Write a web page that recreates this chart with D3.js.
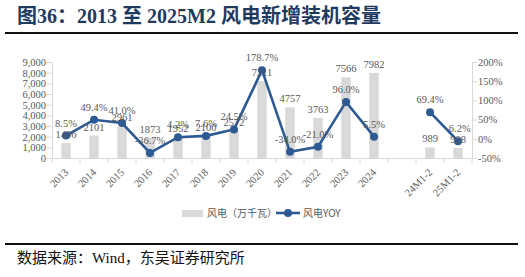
<!DOCTYPE html>
<html lang="zh">
<head>
<meta charset="UTF-8">
<title>风电新增装机容量</title>
<script src="https://d3js.org/d3.v7.min.js"></script>
<style>
  body { margin: 0; background: #fff; }
  text { font-family: "Liberation Serif", "Noto Sans CJK SC", serif; }
</style>
</head>
<body>
<div id="chart"></div>
<script>
// data
var categories = ["2013", "2014", "2015", "2016", "2017", "2018", "2019", "2020", "2021", "2022", "2023", "2024", "", "24M1-2", "25M1-2"];
var capacity = [1406, 2101, 2961, 1873, 1952, 2100, 2572, 7211, 4757, 3763, 7566, 7982, null, 989, 928];
var yoy = [8.5, 49.4, 41.0, -36.7, 4.2, 7.6, 24.5, 178.7, -34.0, -21.0, 96.0, 5.5, null, 69.4, -6.2];
var leftTicks = [0, 1000, 2000, 3000, 4000, 5000, 6000, 7000, 8000, 9000];
var rightTicks = [-50, 0, 50, 100, 150, 200];

var W = 525, H = 277;
var margin = {left: 52, right: 53, top: 62, bottom: 119};
var grey = "#595959", axisCol = "#d9d9d9", lineCol = "#2e5a94";

var svg = d3.select("#chart").append("svg")
    .attr("width", W).attr("height", H);

// title + rules
svg.append("text")
    .attr("x", 17).attr("y", 23)
    .attr("fill", "#1f3a5f")
    .style("font-size", "20px").style("font-weight", "bold")
    .style("font-family", "'Liberation Serif', 'Noto Sans CJK SC', serif")
    .text("图36：2013 至 2025M2 风电新增装机容量");
svg.append("line").attr("x1", 5).attr("x2", 518).attr("y1", 33).attr("y2", 33)
    .attr("stroke", "#111").attr("stroke-width", 2);
svg.append("line").attr("x1", 5).attr("x2", 518).attr("y1", 244).attr("y2", 244)
    .attr("stroke", "#111").attr("stroke-width", 2);
svg.append("text")
    .attr("x", 17).attr("y", 263)
    .attr("fill", "#111")
    .style("font-size", "15px")
    .text("数据来源：Wind，东吴证券研究所");

var x = d3.scaleBand()
    .domain(d3.range(categories.length))
    .range([margin.left, W - margin.right]);

var yL = d3.scaleLinear().domain([0, 9000]).range([158, 62]);
var yR = d3.scaleLinear().domain([-50, 200]).range([158, 62]);

// left axis
var gl = svg.append("g").attr("transform", "translate(" + margin.left + ",0)")
    .call(d3.axisLeft(yL).tickValues(leftTicks).tickSize(5).tickSizeOuter(0)
        .tickFormat(d3.format(",")));
// right axis
var gr = svg.append("g").attr("transform", "translate(" + (W - margin.right) + ",0)")
    .call(d3.axisRight(yR).tickValues(rightTicks).tickSize(5).tickSizeOuter(0)
        .tickFormat(function(d) { return d + "%"; }));
[gl, gr].forEach(function(g) {
    g.select(".domain").attr("stroke", axisCol);
    g.selectAll(".tick line").attr("stroke", axisCol);
    g.selectAll(".tick text").attr("fill", grey)
        .style("font-size", "10.5px")
        .style("font-family", "'Liberation Serif', serif");
});
gl.selectAll(".tick text").attr("x", -6);
gr.selectAll(".tick text").attr("x", 6);

// bottom axis with boundary ticks
var gb = svg.append("g").attr("transform", "translate(0,158)")
    .call(d3.axisBottom(x).tickSize(0).tickSizeOuter(0)
        .tickFormat(function(i) { return categories[i]; }));
gb.select(".domain").attr("stroke", axisCol);
gb.selectAll(".tick text")
    .attr("fill", grey)
    .style("font-size", "10.5px")
    .style("font-family", "'Liberation Serif', serif")
    .attr("text-anchor", "end")
    .attr("dy", null)
    .attr("transform", "translate(3,15) rotate(-45)")
    .attr("y", 0).attr("x", 0);
gb.selectAll(".bound")
    .data(d3.range(categories.length + 1))
    .enter().append("line")
    .attr("x1", function(i) { return i < categories.length ? x(i) : x(i - 1) + x.bandwidth(); })
    .attr("x2", function(i) { return i < categories.length ? x(i) : x(i - 1) + x.bandwidth(); })
    .attr("y1", 0).attr("y2", 5)
    .attr("stroke", axisCol);

// bars
var bw = x.bandwidth() * 0.34;
var barData = categories.map(function(c, i) { return {i: i, v: capacity[i]}; })
    .filter(function(d) { return d.v != null; });
svg.selectAll(".bar").data(barData).enter().append("rect")
    .attr("x", function(d) { return x(d.i) + (x.bandwidth() - bw) / 2; })
    .attr("y", function(d) { return yL(d.v); })
    .attr("width", bw)
    .attr("height", function(d) { return yL(0) - yL(d.v); })
    .attr("fill", "#d9d9d9");

// line
var lineData = categories.map(function(c, i) { return {i: i, v: yoy[i]}; });
var line = d3.line()
    .defined(function(d) { return d.v != null; })
    .x(function(d) { return x(d.i) + x.bandwidth() / 2; })
    .y(function(d) { return yR(d.v); });
svg.append("path").datum(lineData)
    .attr("d", line)
    .attr("fill", "none").attr("stroke", lineCol).attr("stroke-width", 2.6);
var pts = lineData.filter(function(d) { return d.v != null; });
svg.selectAll(".pt").data(pts).enter().append("circle")
    .attr("cx", function(d) { return x(d.i) + x.bandwidth() / 2; })
    .attr("cy", function(d) { return yR(d.v); })
    .attr("r", 4).attr("fill", lineCol);

// labels
svg.selectAll(".blab").data(barData).enter().append("text")
    .attr("x", function(d) { return x(d.i) + x.bandwidth() / 2; })
    .attr("y", function(d) { return yL(d.v) - 5; })
    .attr("text-anchor", "middle")
    .attr("fill", grey).style("font-size", "10.5px")
    .text(function(d) { return d.v; });
svg.selectAll(".llab").data(pts).enter().append("text")
    .attr("x", function(d) { return x(d.i) + x.bandwidth() / 2; })
    .attr("y", function(d) { return yR(d.v) - 9; })
    .attr("text-anchor", "middle")
    .attr("fill", grey).style("font-size", "10.5px")
    .text(function(d) { return d.v.toFixed(1) + "%"; });

// legend
var lg = svg.append("g").attr("transform", "translate(0,213)");
lg.append("rect").attr("x", 182).attr("y", -3).attr("width", 21).attr("height", 7).attr("fill", "#d9d9d9");
lg.append("text").attr("x", 207).attr("y", 4).attr("fill", grey)
    .style("font-size", "10px").style("font-family", "'Noto Sans CJK SC', sans-serif")
    .text("风电（万千瓦）");
lg.append("line").attr("x1", 276).attr("x2", 300).attr("y1", 0).attr("y2", 0)
    .attr("stroke", lineCol).attr("stroke-width", 2.6);
lg.append("circle").attr("cx", 288).attr("cy", 0).attr("r", 4).attr("fill", lineCol);
lg.append("text").attr("x", 303).attr("y", 4).attr("fill", grey)
    .style("font-size", "10px").style("font-family", "'Noto Sans CJK SC', sans-serif")
    .text("风电YOY");
</script>
</body>
</html>
